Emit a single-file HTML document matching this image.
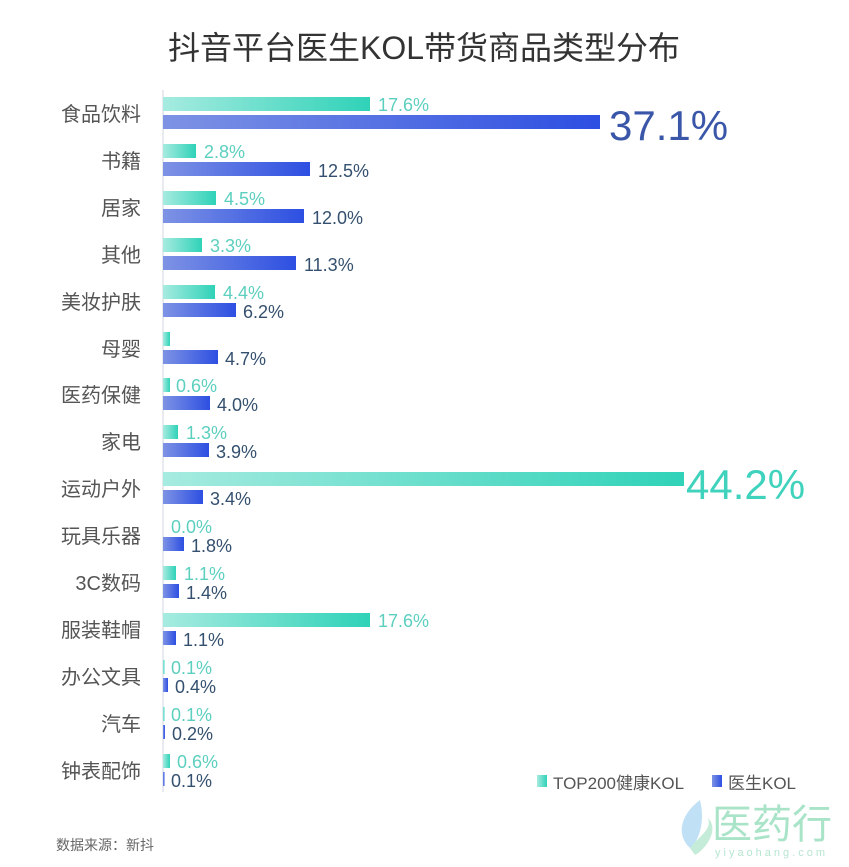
<!DOCTYPE html>
<html><head><meta charset="utf-8"><style>
html,body{margin:0;padding:0;background:#fff;}
svg{display:block;font-family:"Liberation Sans","Noto Sans CJK SC",sans-serif;}
.cat{font-size:20px;fill:#555;text-anchor:end;}
.tl{font-size:18px;fill:#5ccfbf;}
.bl{font-size:18px;fill:#34506e;}
</style></head><body>
<svg width="849" height="867" viewBox="0 0 849 867">
<defs>
<linearGradient id="gt" x1="0" x2="1"><stop offset="0" stop-color="#a6ebe0"/><stop offset="1" stop-color="#2fd2b8"/></linearGradient>
<linearGradient id="gb" x1="0" x2="1"><stop offset="0" stop-color="#7e93e4"/><stop offset="1" stop-color="#2d4fe2"/></linearGradient>
</defs>
<text x="424" y="59" font-size="32" fill="#333" text-anchor="middle">抖音平台医生KOL带货商品类型分布</text>
<line x1="163" y1="90" x2="163" y2="792" stroke="#cfd6dc" stroke-width="1"/>
<g class="cats">
<text class="cat" x="141" y="121">食品饮料</text>
<text class="cat" x="141" y="168">书籍</text>
<text class="cat" x="141" y="215">居家</text>
<text class="cat" x="141" y="262">其他</text>
<text class="cat" x="141" y="309">美妆护肤</text>
<text class="cat" x="141" y="356">母婴</text>
<text class="cat" x="141" y="402">医药保健</text>
<text class="cat" x="141" y="449">家电</text>
<text class="cat" x="141" y="496">运动户外</text>
<text class="cat" x="141" y="543">玩具乐器</text>
<text class="cat" x="141" y="590">3C数码</text>
<text class="cat" x="141" y="637">服装鞋帽</text>
<text class="cat" x="141" y="684">办公文具</text>
<text class="cat" x="141" y="731">汽车</text>
<text class="cat" x="141" y="778">钟表配饰</text>
</g>
<rect x="163" y="97" width="207" height="14" fill="url(#gt)"/>
<rect x="163" y="144" width="33" height="14" fill="url(#gt)"/>
<rect x="163" y="191" width="53" height="14" fill="url(#gt)"/>
<rect x="163" y="238" width="39" height="14" fill="url(#gt)"/>
<rect x="163" y="285" width="52" height="14" fill="url(#gt)"/>
<rect x="163" y="332" width="7" height="14" fill="url(#gt)"/>
<rect x="163" y="378" width="7" height="14" fill="url(#gt)"/>
<rect x="163" y="425" width="15" height="14" fill="url(#gt)"/>
<rect x="163" y="472" width="521" height="14" fill="url(#gt)"/>
<rect x="163" y="566" width="13" height="14" fill="url(#gt)"/>
<rect x="163" y="613" width="207" height="14" fill="url(#gt)"/>
<rect x="163" y="660" width="1.5" height="14" fill="url(#gt)"/>
<rect x="163" y="707" width="1.5" height="14" fill="url(#gt)"/>
<rect x="163" y="754" width="7" height="14" fill="url(#gt)"/>
<rect x="163" y="115" width="437" height="14" fill="url(#gb)"/>
<rect x="163" y="162" width="147" height="14" fill="url(#gb)"/>
<rect x="163" y="209" width="141" height="14" fill="url(#gb)"/>
<rect x="163" y="256" width="133" height="14" fill="url(#gb)"/>
<rect x="163" y="303" width="73" height="14" fill="url(#gb)"/>
<rect x="163" y="350" width="55" height="14" fill="url(#gb)"/>
<rect x="163" y="396" width="47" height="14" fill="url(#gb)"/>
<rect x="163" y="443" width="46" height="14" fill="url(#gb)"/>
<rect x="163" y="490" width="40" height="14" fill="url(#gb)"/>
<rect x="163" y="537" width="21" height="14" fill="url(#gb)"/>
<rect x="163" y="584" width="16" height="14" fill="url(#gb)"/>
<rect x="163" y="631" width="13" height="14" fill="url(#gb)"/>
<rect x="163" y="678" width="5" height="14" fill="url(#gb)"/>
<rect x="163" y="725" width="2" height="14" fill="url(#gb)"/>
<rect x="163" y="772" width="1.5" height="14" fill="url(#gb)"/>
<text class="tl" x="378" y="111">17.6%</text>
<text class="tl" x="204" y="158">2.8%</text>
<text class="tl" x="224" y="205">4.5%</text>
<text class="tl" x="210" y="252">3.3%</text>
<text class="tl" x="223" y="299">4.4%</text>
<text class="tl" x="176" y="392">0.6%</text>
<text class="tl" x="186" y="439">1.3%</text>
<text font-size="42" fill="#3fd2bd" x="686" y="499">44.2%</text>
<text class="tl" x="171" y="533">0.0%</text>
<text class="tl" x="184" y="580">1.1%</text>
<text class="tl" x="378" y="627">17.6%</text>
<text class="tl" x="171" y="674">0.1%</text>
<text class="tl" x="171" y="721">0.1%</text>
<text class="tl" x="177" y="768">0.6%</text>
<text font-size="42" fill="#3a56a8" x="609" y="140">37.1%</text>
<text class="bl" x="318" y="177">12.5%</text>
<text class="bl" x="312" y="224">12.0%</text>
<text class="bl" x="304" y="271">11.3%</text>
<text class="bl" x="243" y="318">6.2%</text>
<text class="bl" x="225" y="365">4.7%</text>
<text class="bl" x="217" y="411">4.0%</text>
<text class="bl" x="216" y="458">3.9%</text>
<text class="bl" x="210" y="505">3.4%</text>
<text class="bl" x="191" y="552">1.8%</text>
<text class="bl" x="186" y="599">1.4%</text>
<text class="bl" x="183" y="646">1.1%</text>
<text class="bl" x="175" y="693">0.4%</text>
<text class="bl" x="172" y="740">0.2%</text>
<text class="bl" x="171" y="787">0.1%</text>
<rect x="537" y="775" width="10" height="12" fill="url(#gt)"/>
<text x="553" y="789" font-size="17" fill="#555">TOP200健康KOL</text>
<rect x="712" y="775" width="10" height="12" fill="url(#gb)"/>
<text x="728" y="789" font-size="17" fill="#555">医生KOL</text>
<text x="56" y="850" font-size="14" fill="#666">数据来源：新抖</text>
<path d="M700 800 C 680 815, 676 835, 690 848 C 700 840, 705 820, 700 800 Z" fill="#bfe0f5"/>
<path d="M690 848 C 700 835, 712 830, 708 818 C 720 830, 705 850, 695 855 Z" fill="#c5ecd8"/>
<text x="712" y="838" font-size="40" fill="#a9e3c8">医药行</text>
<text x="715" y="856" font-size="11" fill="#b8e6d0" letter-spacing="3">yiyaohang.com</text>
</svg>
</body></html>
